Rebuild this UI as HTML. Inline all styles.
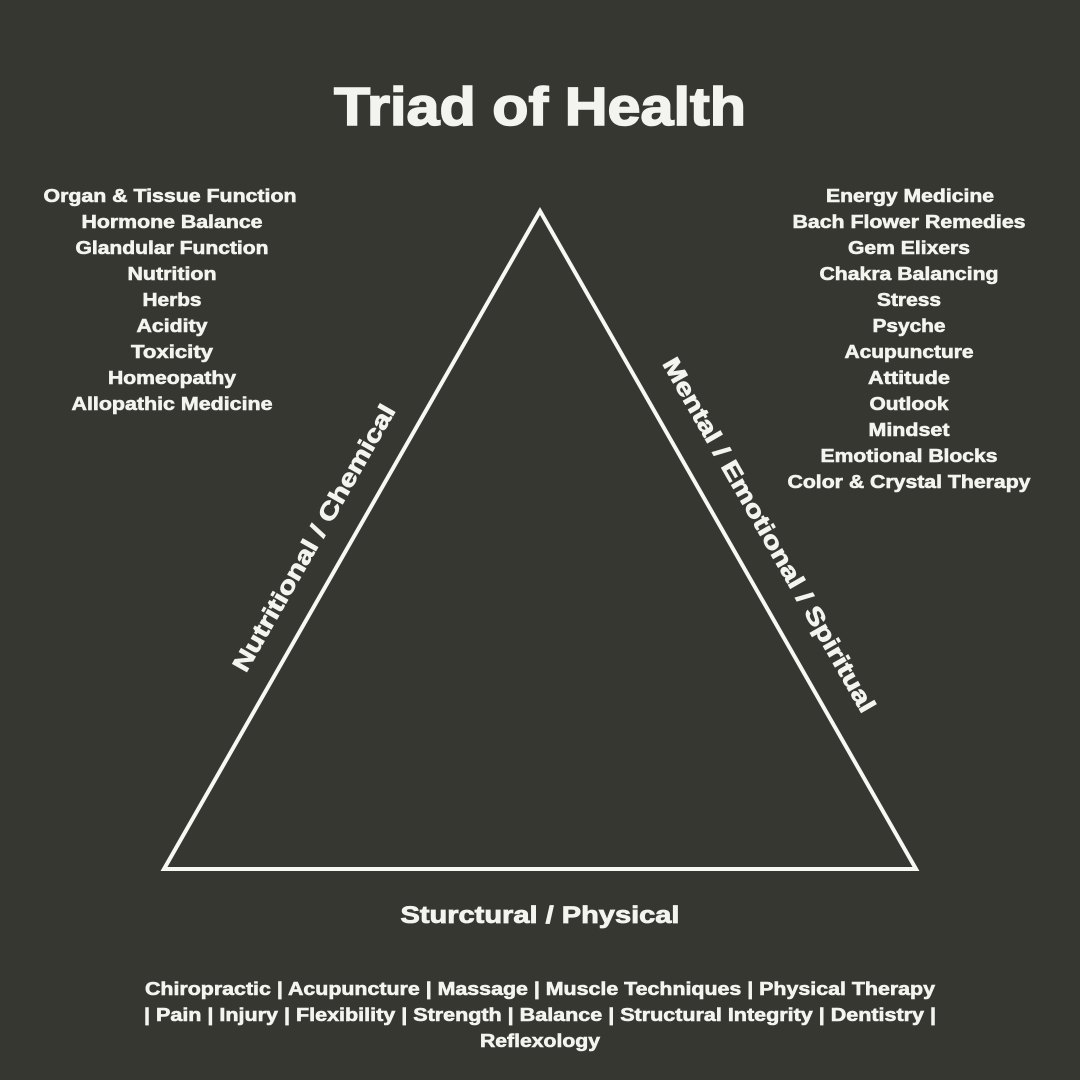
<!DOCTYPE html>
<html><head><meta charset="utf-8"><style>
html,body{margin:0;padding:0;background:#353730;}
svg{display:block}
text{font-family:"Liberation Sans",sans-serif;font-weight:bold;fill:#f3f4ef;stroke:#f3f4ef;stroke-width:0.6;}
</style></head><body>
<svg width="1080" height="1080" viewBox="0 0 1080 1080">
<rect width="1080" height="1080" fill="#353730"/>
<text x="540" y="125" text-anchor="middle" font-size="54" textLength="412" lengthAdjust="spacingAndGlyphs" style="stroke-width:1.6">Triad of Health</text>
<polygon points="540,211 164,869 916,869" fill="none" stroke="#f7f8f3" stroke-width="4" stroke-linejoin="miter"/>
<g font-size="18" text-anchor="middle">
<text x="170" y="202" textLength="253" lengthAdjust="spacingAndGlyphs">Organ &amp; Tissue Function</text>
<text x="172" y="228" textLength="181" lengthAdjust="spacingAndGlyphs">Hormone Balance</text>
<text x="172" y="254" textLength="193" lengthAdjust="spacingAndGlyphs">Glandular Function</text>
<text x="172" y="280" textLength="89" lengthAdjust="spacingAndGlyphs">Nutrition</text>
<text x="172" y="306" textLength="59" lengthAdjust="spacingAndGlyphs">Herbs</text>
<text x="172" y="332" textLength="71" lengthAdjust="spacingAndGlyphs">Acidity</text>
<text x="172" y="358" textLength="82" lengthAdjust="spacingAndGlyphs">Toxicity</text>
<text x="172" y="384" textLength="128" lengthAdjust="spacingAndGlyphs">Homeopathy</text>
<text x="172" y="410" textLength="201" lengthAdjust="spacingAndGlyphs">Allopathic Medicine</text>

<text x="910" y="202" textLength="168" lengthAdjust="spacingAndGlyphs">Energy Medicine</text>
<text x="909" y="228" textLength="233" lengthAdjust="spacingAndGlyphs">Bach Flower Remedies</text>
<text x="909" y="254" textLength="122" lengthAdjust="spacingAndGlyphs">Gem Elixers</text>
<text x="909" y="280" textLength="179" lengthAdjust="spacingAndGlyphs">Chakra Balancing</text>
<text x="909" y="306" textLength="64" lengthAdjust="spacingAndGlyphs">Stress</text>
<text x="909" y="332" textLength="73" lengthAdjust="spacingAndGlyphs">Psyche</text>
<text x="909" y="358" textLength="129" lengthAdjust="spacingAndGlyphs">Acupuncture</text>
<text x="909" y="384" textLength="82" lengthAdjust="spacingAndGlyphs">Attitude</text>
<text x="909" y="410" textLength="79" lengthAdjust="spacingAndGlyphs">Outlook</text>
<text x="909" y="436" textLength="81" lengthAdjust="spacingAndGlyphs">Mindset</text>
<text x="909" y="462" textLength="177" lengthAdjust="spacingAndGlyphs">Emotional Blocks</text>
<text x="909" y="488" textLength="243" lengthAdjust="spacingAndGlyphs">Color &amp; Crystal Therapy</text>
</g>
<g font-size="24" text-anchor="middle">
<text transform="translate(314,538) rotate(-60.3)" x="0" y="8" textLength="303" lengthAdjust="spacingAndGlyphs" style="stroke-width:0.8">Nutritional / Chemical</text>
<text transform="translate(769,535) rotate(60.3)" x="0" y="8" textLength="404" lengthAdjust="spacingAndGlyphs" style="stroke-width:0.8">Mental / Emotional / Spiritual</text>
<text x="540" y="923" textLength="279" lengthAdjust="spacingAndGlyphs" style="stroke-width:0.8">Sturctural / Physical</text>
</g>
<g font-size="18" text-anchor="middle">
<text x="540" y="995" textLength="790" lengthAdjust="spacingAndGlyphs">Chiropractic | Acupuncture | Massage | Muscle Techniques | Physical Therapy</text>
<text x="540" y="1021" textLength="792" lengthAdjust="spacingAndGlyphs">| Pain | Injury | Flexibility | Strength | Balance | Structural Integrity | Dentistry |</text>
<text x="540" y="1047" textLength="120" lengthAdjust="spacingAndGlyphs">Reflexology</text>
</g>
</svg>
</body></html>
